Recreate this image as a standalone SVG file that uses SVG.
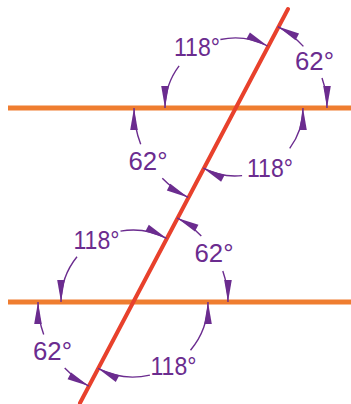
<svg xmlns="http://www.w3.org/2000/svg" width="351" height="404" viewBox="0 0 351 404">
<defs>
<style>
.hl{stroke:#ef7d30;stroke-width:5;fill:none}
.tr{stroke:#e8412c;stroke-width:4;fill:none;stroke-linecap:round}
.arc{stroke:#6b2c8f;stroke-width:1.4;fill:none;marker-end:url(#ah)}
.lbl{font-family:"Liberation Sans",Arial,sans-serif;font-size:26px;fill:#6b2c8f;text-anchor:middle}
</style>
<marker id="ah" viewBox="-24 -5 26 10" markerWidth="26" markerHeight="10" refX="0" refY="0" orient="auto" markerUnits="userSpaceOnUse">
<path d="M0,0 L-22,-3.8 L-22,3.8 Z" fill="#6b2c8f"/>
</marker>
</defs>
<g id="lines">
<line id="parallel-top" class="hl" x1="8" y1="108" x2="351" y2="108"/>
<line id="parallel-bottom" class="hl" x1="8" y1="302" x2="351" y2="302"/>
<line id="transversal" class="tr" x1="288" y1="9" x2="80" y2="403"/>
</g>
<g id="connectors">
<path class="arc" d="M179.1,65.9 A70,70 0 0 0 165,108"/>
<path class="arc" d="M220.4,39.5 A70,70 0 0 1 267.6,46"/>
<path class="arc" d="M303.4,46.4 A92,92 0 0 0 277.8,26.6"/>
<path class="arc" d="M322,78 A92,92 0 0 1 327,108"/>
<path class="arc" d="M140.7,144.2 A101,101 0 0 1 134,108"/>
<path class="arc" d="M162.3,178.2 A101,101 0 0 0 188.1,197.4"/>
<path class="arc" d="M289.7,148.4 A68,68 0 0 0 303,108"/>
<path class="arc" d="M242.1,175.6 A68,68 0 0 1 203.4,168.2"/>
<path class="arc" d="M77,256.7 A72,72 0 0 0 61,302"/>
<path class="arc" d="M120.5,231.1 A72,72 0 0 1 166.5,238.3"/>
<path class="arc" d="M201.3,236 A95,95 0 0 0 177.2,217.9"/>
<path class="arc" d="M222.8,271.1 A95,95 0 0 1 228,302"/>
<path class="arc" d="M43.7,334.5 A95,95 0 0 1 38,302"/>
<path class="arc" d="M64.7,368 A95,95 0 0 0 88.8,386.1"/>
<path class="arc" d="M190.5,350.2 A75,75 0 0 0 208,302"/>
<path class="arc" d="M149.9,375.1 A75,75 0 0 1 98.1,368.4"/>
</g>
<g id="labels">
<text id="a1" class="lbl" x="197" y="56" textLength="46" lengthAdjust="spacingAndGlyphs">118°</text>
<text id="a2" class="lbl" x="314.5" y="70" textLength="39" lengthAdjust="spacingAndGlyphs">62°</text>
<text id="a3" class="lbl" x="148" y="170" textLength="39" lengthAdjust="spacingAndGlyphs">62°</text>
<text id="a4" class="lbl" x="270" y="177" textLength="46" lengthAdjust="spacingAndGlyphs">118°</text>
<text id="a5" class="lbl" x="96.5" y="249" textLength="46" lengthAdjust="spacingAndGlyphs">118°</text>
<text id="a6" class="lbl" x="214" y="262" textLength="39" lengthAdjust="spacingAndGlyphs">62°</text>
<text id="a7" class="lbl" x="52.5" y="360" textLength="39" lengthAdjust="spacingAndGlyphs">62°</text>
<text id="a8" class="lbl" x="173.5" y="375" textLength="46" lengthAdjust="spacingAndGlyphs">118°</text>
</g>
</svg>
